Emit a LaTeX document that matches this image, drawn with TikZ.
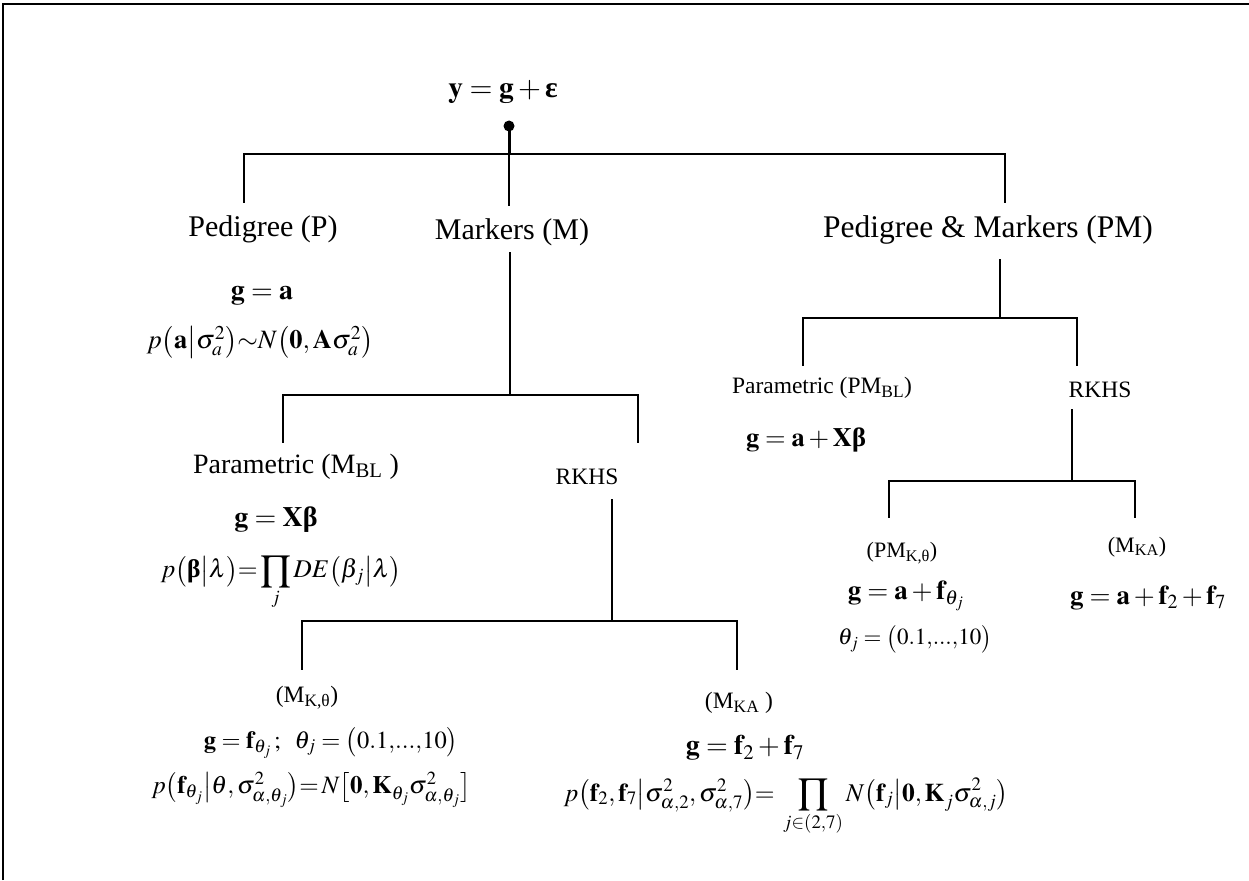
\documentclass[tikz,border=0pt]{standalone}
\usepackage{mathptmx}
\usepackage{fontspec}
\setmainfont{Liberation Serif}
\newcommand{\bgr}[1]{\mbox{\bfseries #1}}
\newcommand{\fs}[1]{\fontsize{#1}{#1}\selectfont}
\tikzset{
  big/.style={inner sep=0pt, font=\fs{30}},
  mid/.style={inner sep=0pt, font=\fs{28}},
  sml/.style={inner sep=0pt, font=\fs{23.5}},
  tiny/.style={inner sep=0pt, font=\fs{22}},
  eq/.style={inner sep=0pt, font=\fs{28}},
  br/.style={line width=1.5pt, line cap=rect},
  frame/.style={line width=2.5pt}
}
\begin{document}
\begin{tikzpicture}[x=1pt,y=-1pt]
\useasboundingbox (0,0) rectangle (1249,880);
\draw[frame] (3,880) -- (3,4) -- (1252,4);

% title
\node[eq, font=\fs{29.5}] (title) at (503,92) {$\mathbf{y}=\mathbf{g}+\bgr{ε}$};
\fill (509,126) circle (5.5);
\coordinate (dot) at (509,126);
\coordinate (j0) at (509,154);
\draw[line width=3pt] (dot) -- (j0);

% level 1
\coordinate (bP) at (244,154);
\coordinate (bPM) at (1005,154);
\coordinate (eP) at (244,202);
\coordinate (eM) at (509,205);
\coordinate (ePM) at (1005,202);
\draw[br] (eP) -- (bP) -- (bPM) -- (ePM);
\draw[br] (j0) -- (eM);

\node[big] (P) at (263,229) {Pedigree (P)};
\node[big] (M) at (512,232) {Markers (M)};
\node[big, font=\fs{31.5}] (PM) at (988,230) {Pedigree \& Markers (PM)};

\node[eq] (ga) at (262,296) {$\mathbf{g}=\mathbf{a}$};
\node[eq, font=\fs{26.5}] (pa) at (260,342) {$p\bigl(\mathbf{a}\big|\sigma_a^2\bigr)\mathrel{\mkern-4mu\sim\mkern-4mu}N\bigl(\mathbf{0,A}\sigma_a^2\bigr)$};

% Markers branch
\coordinate (mT) at (510,253);
\coordinate (mJ) at (510,395);
\coordinate (mL) at (283,395);
\coordinate (mR) at (638,395);
\coordinate (mLe) at (283,442);
\coordinate (mRe) at (638,442);
\draw[br] (mT) -- (mJ);
\draw[br] (mLe) -- (mL) -- (mR) -- (mRe);

\node[mid] (mbl) at (296,467) {Parametric (M\textsubscript{BL} )};
\node[eq] (gxb) at (276,520) {$\mathbf{g}=\mathbf{X}\bgr{β}$};
\node[eq, font=\fs{25.5}] (pbl) at (281,583) {$p\bigl(\bgr{β}\big|\lambda\bigr){=}\displaystyle\prod_j DE\bigl(\beta_j\big|\lambda\bigr)$};

\node[sml] (rk1) at (587,477) {RKHS};
\coordinate (rT) at (612,500);
\coordinate (rJ) at (612,621);
\coordinate (rL) at (302,621);
\coordinate (rR) at (737,621);
\coordinate (rLe) at (302,669);
\coordinate (rRe) at (737,669);
\draw[br] (rT) -- (rJ);
\draw[br] (rLe) -- (rL) -- (rR) -- (rRe);

\node[sml] (mkt) at (307,698) {(M\textsubscript{K,θ})};
\node[eq, font=\fs{24.5}] (gft) at (331,743) {$\mathbf{g}=\mathbf{f}_{\theta_j}\,;\;\;\theta_j=\bigl(0.1{,}...{,}10\bigr)$};
\node[eq, font=\fs{25}] (pft) at (311,790) {$p\bigl(\mathbf{f}_{\theta_j}\big|\theta,\sigma^2_{\alpha,\theta_j}\bigr){=}\,N\bigl[\mathbf{0,K}_{\theta_j}\sigma^2_{\alpha,\theta_j}\bigr]$};

\node[sml] (mka) at (739,703) {(M\textsubscript{KA} )};
\node[eq] (gf27) at (745,748) {$\mathbf{g}=\mathbf{f}_2+\mathbf{f}_7$};
\node[eq, font=\fs{25.5}] (pf27) at (786,807) {$p\bigl(\mathbf{f}_2,\mathbf{f}_7\big|\sigma^2_{\alpha,2},\sigma^2_{\alpha,7}\bigr){=}\;\displaystyle\prod_{j\in(2,7)}N\bigl(\mathbf{f}_j\big|\mathbf{0,K}_j\sigma^2_{\alpha,j}\bigr)$};

% PM branch
\coordinate (pT) at (1000,260);
\coordinate (pJ) at (1000,318);
\coordinate (pL) at (803,318);
\coordinate (pR) at (1077,318);
\coordinate (pLe) at (803,365);
\coordinate (pRe) at (1077,365);
\draw[br] (pT) -- (pJ);
\draw[br] (pLe) -- (pL) -- (pR) -- (pRe);

\node[sml] (pmbl) at (822,388) {Parametric (PM\textsubscript{BL})};
\node[eq, font=\fs{26.5}] (gaxb) at (806,440) {$\mathbf{g}=\mathbf{a}+\mathbf{X}\bgr{β}$};

\node[sml] (rk2) at (1100,390) {RKHS};
\coordinate (qT) at (1072,410);
\coordinate (qJ) at (1072,481);
\coordinate (qL) at (889,481);
\coordinate (qR) at (1135,481);
\coordinate (qLe) at (889,517);
\coordinate (qRe) at (1135,517);
\draw[br] (qT) -- (qJ);
\draw[br] (qLe) -- (qL) -- (qR) -- (qRe);

\node[tiny] (pmkt) at (902,553) {(PM\textsubscript{K,θ})};
\node[eq, font=\fs{27}] (gaft) at (906,596) {$\mathbf{g}=\mathbf{a}+\mathbf{f}_{\theta_j}$};
\node[eq, font=\fs{23}] (thj) at (915,639) {$\theta_j=\bigl(0.1{,}...{,}10\bigr)$};

\node[tiny] (mka2) at (1137,547) {(M\textsubscript{KA})};
\node[eq, font=\fs{27}] (gaf27) at (1148,598) {$\mathbf{g}=\mathbf{a}+\mathbf{f}_2+\mathbf{f}_7$};
\end{tikzpicture}
\end{document}
